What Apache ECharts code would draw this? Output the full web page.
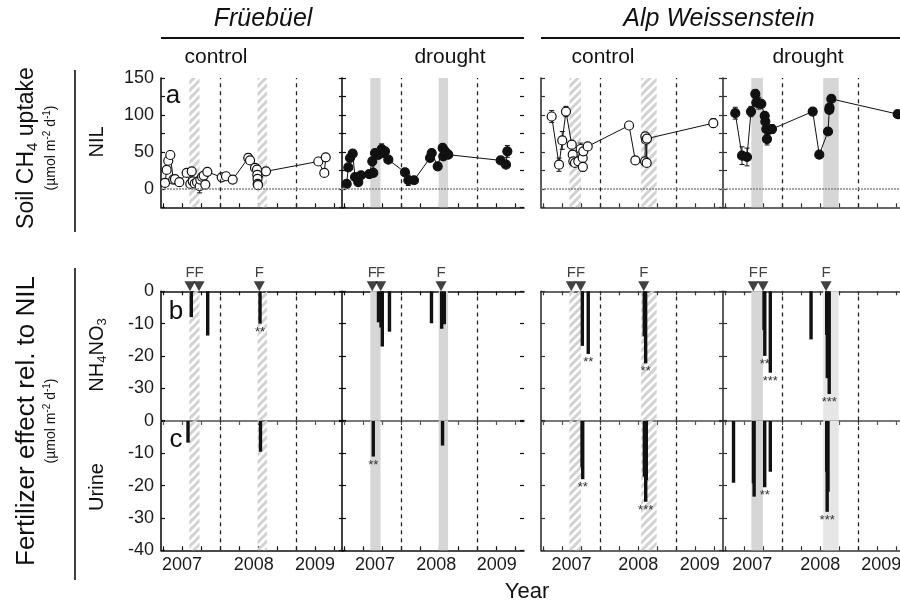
<!DOCTYPE html>
<html>
<head>
<meta charset="utf-8">
<script src="https://cdn.jsdelivr.net/npm/echarts@6.0.0/dist/echarts.min.js"></script>
<style>
html, body { margin: 0; padding: 0; background: #fff; }
#main { width: 900px; height: 606px; }
</style>
</head>
<body>
<div id="main"></div>
<script>
// x values are decimal years
var yearTicks = [2007.25, 2007.5, 2007.75, 2008, 2008.25, 2008.5, 2008.75, 2009, 2009.25, 2009.5];
var yearLines = [2008, 2009];
var yearLabels = ['2007', '2008', '2009'];
// where each panel writes its year labels
var yearLabelPos = [
    [2007.491, 2008.440, 2009.248],
    [2007.650, 2008.458, 2009.257],
    [2007.617, 2008.498, 2009.312],
    [2007.600, 2008.498, 2009.304]
];
var panelNames = ['control', 'drought', 'control', 'drought'];
var siteNames = ['Früebüel', 'Alp Weissenstein'];

// drought periods
var shadeFrue = [[2007.588, 2007.723], [2008.490, 2008.615]];
var shadeAlp = [[2007.588, 2007.742], [2008.537, 2008.742]];

// fertilizer applications (F)
var fertFrueControl = [2007.597, 2007.716, 2008.512];
var fertFrueDrought = [2007.614, 2007.725, 2008.522];
var fertAlpControl = [2007.614, 2007.738, 2008.571];
var fertAlpDrought = [2007.614, 2007.742, 2008.575];

// a: CH4 uptake of NIL plots [year, uptake, error]
var nilFrueControl = [
    [2007.267, 8, 0], [2007.289, 25.6, 0], [2007.310, 38, 0], [2007.337, 45.8, 3],
    [2007.376, 12.5, 0], [2007.399, 13, 0], [2007.456, 9, 5], [2007.553, 21.5, 0],
    [2007.601, 6.7, 0], [2007.620, 23.7, 0], [2007.633, 10.2, 0], [2007.659, 7.1, 0],
    [2007.690, 8.9, 0], [2007.725, 3.5, 9], [2007.733, 12.5, 0], [2007.756, 16.2, 0],
    [2007.778, 18, 0], [2007.799, 5.8, 0], [2007.826, 23, 0], [2008.016, 15.6, 0],
    [2008.073, 17, 0], [2008.161, 12.5, 0], [2008.367, 41.8, 6], [2008.390, 38.5, 0],
    [2008.456, 28.3, 0], [2008.482, 26, 0], [2008.486, 19, 0], [2008.489, 13.5, 0],
    [2008.491, 6.7, 0], [2008.495, 5, 0], [2008.601, 23.7, 0], [2009.292, 37, 0],
    [2009.371, 21.5, 0], [2009.390, 42.6, 0]
];
var nilFrueDrought = [
    [2007.276, 6.7, 0], [2007.297, 29, 0], [2007.320, 41.7, 0], [2007.355, 47.6, 0],
    [2007.386, 16, 0], [2007.429, 9, 0], [2007.465, 18.4, 0], [2007.575, 20, 0],
    [2007.614, 37.2, 0], [2007.627, 21.5, 0], [2007.650, 48.5, 0], [2007.694, 46, 0],
    [2007.738, 53.9, 7], [2007.760, 48.5, 0], [2007.782, 50.7, 0], [2007.826, 39.5, 0],
    [2008.046, 22.4, 0], [2008.090, 11.6, 7], [2008.165, 11.6, 0], [2008.377, 41.8, 0],
    [2008.399, 48.5, 0], [2008.478, 30.5, 0], [2008.544, 55.3, 0], [2008.552, 44, 0],
    [2008.575, 50.7, 0], [2008.618, 46.2, 0], [2009.310, 38.5, 0], [2009.380, 32.7, 0],
    [2009.398, 50.7, 8]
];
var nilAlpControl = [
    [2007.355, 97.9, 8], [2007.452, 32.7, 9], [2007.495, 65.5, 12], [2007.544, 104.6, 7],
    [2007.620, 59.7, 0], [2007.633, 46.2, 0], [2007.641, 37.2, 0], [2007.663, 35, 0],
    [2007.707, 37.2, 0], [2007.738, 53.9, 8], [2007.765, 41.8, 0], [2007.767, 29.6, 6],
    [2007.773, 50.7, 0], [2007.831, 57.4, 0], [2008.377, 85.7, 0], [2008.460, 38.5, 5],
    [2008.588, 37.2, 0], [2008.592, 70.9, 0], [2008.601, 66.4, 0], [2008.610, 35, 0],
    [2008.614, 68, 0], [2009.490, 88.9, 6]
];
var nilAlpDrought = [
    [2007.376, 102.4, 8], [2007.465, 44.9, 12], [2007.531, 43.1, 12], [2007.584, 104.6, 7],
    [2007.641, 128.4, 6], [2007.654, 116.7, 0], [2007.686, 115.9, 8], [2007.720, 115, 0],
    [2007.765, 98.8, 0], [2007.773, 91.1, 0], [2007.786, 80.9, 8], [2007.795, 67.4, 8],
    [2007.818, 79.9, 0], [2007.861, 80.9, 6], [2008.399, 104.6, 0], [2008.486, 46.2, 5],
    [2008.601, 77.6, 0], [2008.618, 106.9, 0], [2008.621, 110, 0], [2008.645, 121.7, 0],
    [2009.522, 101.1, 4]
];

// b: NH4NO3 effect rel. to NIL [year, effect, significance stars]
var nh4FrueControl = [[2007.614, -8, 0], [2007.831, -13.7, 0], [2008.522, -10, 2]];
var nh4FrueDrought = [
    [2007.696, -9.6, 0], [2007.729, -11.2, 0], [2007.746, -17.1, 0], [2007.841, -12.5, 0],
    [2008.396, -9.9, 0], [2008.531, -11.6, 0], [2008.565, -10.2, 0]
];
var nh4AlpControl = [[2007.760, -16.9, 0], [2007.838, -19.4, 2], [2008.578, -14, 0], [2008.596, -22.3, 2]];
var nh4AlpDrought = [
    [2007.756, -12, 0], [2007.766, -20, 2], [2007.839, -25.2, 3], [2008.377, -14.9, 0],
    [2008.584, -13.5, 0], [2008.592, -26.9, 0], [2008.617, -31.8, 3]
];

// c: urine effect rel. to NIL
var urineFrueControl = [[2007.571, -6.7, 0], [2008.528, -9.5, 0]];
var urineFrueDrought = [[2007.627, -11, 2], [2008.542, -7.6, 0]];
var urineAlpControl = [
    [2007.756, -14.3, 0], [2007.765, -18, 2], [2008.579, -17.2, 0], [2008.605, -18.3, 0],
    [2008.597, -25, 3]
];
var urineAlpDrought = [
    [2007.353, -19.1, 0], [2007.616, -19.3, 0], [2007.625, -23.4, 0], [2007.765, -20.5, 2],
    [2007.839, -15.7, 0], [2008.584, -15.7, 0], [2008.601, -21.9, 0], [2008.590, -28.1, 3]
];

var nilData = [nilFrueControl, nilFrueDrought, nilAlpControl, nilAlpDrought];
var nh4Data = [nh4FrueControl, nh4FrueDrought, nh4AlpControl, nh4AlpDrought];
var urineData = [urineFrueControl, urineFrueDrought, urineAlpControl, urineAlpDrought];
var fertData = [fertFrueControl, fertFrueDrought, fertAlpControl, fertAlpDrought];

var FONT = '"Liberation Sans", Arial, Helvetica, sans-serif';
var xMin = 2007.214, xMax = 2009.618;
var colLeft = [161, 342, 541, 723], colWidth = 182;
var rowTop = [78, 291.3, 421], rowHeight = [129.3, 129.2, 129.3];
var yRange = [[-25, 150, 25], [-40, 0, 10], [-40, 0, 10]];

// diagonal hatch for the control panels
function hatchCanvas() {
    var cv = document.createElement('canvas');
    cv.width = 8; cv.height = 8;
    var ctx = cv.getContext('2d');
    ctx.strokeStyle = '#d2d2d2';
    ctx.lineWidth = 3;
    ctx.beginPath();
    ctx.moveTo(-2, 10); ctx.lineTo(10, -2);
    ctx.moveTo(-2, 2); ctx.lineTo(2, -2);
    ctx.moveTo(6, 10); ctx.lineTo(10, 6);
    ctx.stroke();
    return cv;
}
var hatch = { image: hatchCanvas(), repeat: 'repeat' };

function renderErr(params, api) {
    var err = api.value(2);
    if (!err) return null;
    var x = api.value(0), y = api.value(1);
    var lo = api.coord([x, y - err]), hi = api.coord([x, y + err]);
    var st = { stroke: '#111', lineWidth: 1 };
    return {
        type: 'group', children: [
            { type: 'line', shape: { x1: lo[0], y1: lo[1], x2: hi[0], y2: hi[1] }, style: st },
            { type: 'line', shape: { x1: lo[0] - 2.5, y1: lo[1], x2: lo[0] + 2.5, y2: lo[1] }, style: st },
            { type: 'line', shape: { x1: hi[0] - 2.5, y1: hi[1], x2: hi[0] + 2.5, y2: hi[1] }, style: st }
        ]
    };
}

function renderBar(params, api) {
    var x = api.value(0), v = api.value(1), n = api.value(2);
    var p0 = api.coord([x, 0]), p1 = api.coord([x, v]);
    var w = 3.4;
    var kids = [{
        type: 'rect',
        shape: { x: p0[0] - w / 2, y: p0[1], width: w, height: p1[1] - p0[1] },
        style: { fill: '#111' }
    }];
    if (n > 0) {
        kids.push({
            type: 'text', x: p1[0], y: p1[1] + 2,
            style: { text: new Array(n + 1).join('*'), fill: '#333', fontSize: 13, fontFamily: FONT, align: 'center', verticalAlign: 'top' }
        });
    }
    return { type: 'group', children: kids };
}

var grids = [], xAxes = [], yAxes = [], series = [];

for (var r = 0; r < 3; r++) {
    for (var c = 0; c < 4; c++) {
        var g = r * 4 + c;
        var axisCol = c < 2 ? '#111' : '#333';
        grids.push({ left: colLeft[c], top: rowTop[r], width: colWidth, height: rowHeight[r], outerBoundsMode: 'none' });
        (function (c, r) {
            xAxes.push({
                type: 'value', gridIndex: g, min: xMin, max: xMax,
                position: r === 1 ? 'top' : 'bottom',
                axisLine: { show: true, onZero: false, lineStyle: { color: axisCol, width: 1.6 } },
                axisTick: { show: true, inside: true, length: 4, customValues: yearTicks, lineStyle: { color: axisCol, width: 1.2 } },
                axisLabel: r === 2 ? {
                    show: true, customValues: yearLabelPos[c], fontSize: 18, color: '#1a1a1a', margin: 6, fontFamily: FONT,
                    formatter: function (v) {
                        var best = 0;
                        for (var i = 0; i < 3; i++) if (Math.abs(yearLabelPos[c][i] - v) < Math.abs(yearLabelPos[c][best] - v)) best = i;
                        return yearLabels[best];
                    }
                } : { show: false },
                splitLine: { show: false }
            });
            var yr = yRange[r];
            yAxes.push({
                type: 'value', gridIndex: g, min: yr[0], max: yr[1], interval: yr[2], position: 'left',
                axisLine: { show: true, onZero: false, lineStyle: { color: axisCol, width: 1.6 } },
                axisTick: { show: true, inside: true, length: 4, lineStyle: { color: axisCol, width: 1.2 } },
                axisLabel: {
                    show: c === 0, fontSize: 18, color: '#1a1a1a', margin: 7, fontFamily: FONT,
                    formatter: function (v) {
                        if (r === 0) return (v >= 0 && v % 50 === 0) ? String(v) : '';
                        if (r === 1 && v === -40) return '';
                        return String(v);
                    }
                },
                splitLine: { show: false }
            });
        })(c, r);
    }
}
// right-hand ticks
for (var g2 = 0; g2 < 12; g2++) {
    var rr = Math.floor(g2 / 4), cc = g2 % 4;
    yAxes.push({
        type: 'value', gridIndex: g2, min: yRange[rr][0], max: yRange[rr][1], interval: yRange[rr][2], position: 'right',
        axisLine: { show: false, onZero: false },
        axisTick: { show: true, inside: true, length: 4, lineStyle: { color: cc < 2 ? '#111' : '#333', width: 1.2 } },
        axisLabel: { show: false }, splitLine: { show: false }
    });
}
// grey zero line on top of the urine panels
for (var c3 = 0; c3 < 4; c3++) {
    xAxes.push({
        type: 'value', gridIndex: 8 + c3, min: xMin, max: xMax, position: 'top',
        axisLine: { show: true, onZero: false, lineStyle: { color: '#7a7a7a', width: 2 } },
        axisTick: { show: true, inside: true, length: 4, customValues: yearTicks, lineStyle: { color: '#555', width: 1.2 } },
        axisLabel: { show: false }, splitLine: { show: false }
    });
}

for (var r = 0; r < 3; r++) {
    for (var c = 0; c < 4; c++) {
        var g = r * 4 + c;
        var shade = c < 2 ? shadeFrue : shadeAlp;
        var fill = (c === 0 || c === 2) ? hatch : '#d6d6d6';
        var areas = shade.map(function (s, i) {
            var it = [{ xAxis: s[0] }, { xAxis: s[1] }];
            if (c === 3 && i === 1 && r > 0) it[0].itemStyle = { color: '#e6e6e6' };
            return it;
        });
        var lines = yearLines.map(function (y) {
            return { xAxis: y, lineStyle: { color: '#222', type: [4, 4], width: 1.3 } };
        });
        if (r === 0) lines.push({ yAxis: 0, lineStyle: { color: '#888', type: [2, 1], width: 1.5 } });
        series.push({
            type: 'line', xAxisIndex: g, yAxisIndex: g, data: [], silent: true, z: 1,
            markArea: { silent: true, itemStyle: { color: fill }, data: areas },
            markLine: { silent: true, symbol: 'none', label: { show: false }, data: lines, animation: false }
        });
        if (r === 0) {
            series.push({
                type: 'custom', xAxisIndex: g, yAxisIndex: g, data: nilData[c], renderItem: renderErr, z: 3, silent: true
            });
            series.push({
                type: 'line', xAxisIndex: g, yAxisIndex: g, z: 4,
                data: nilData[c].map(function (p) { return [p[0], p[1]]; }),
                symbol: 'circle', symbolSize: 9, showSymbol: true,
                lineStyle: { color: '#111', width: 1 },
                itemStyle: { color: (c === 1 || c === 3) ? '#111' : '#fff', borderColor: '#111', borderWidth: 1.2 }
            });
        } else {
            series.push({
                type: 'custom', xAxisIndex: g, yAxisIndex: g, z: 3, silent: true,
                data: r === 1 ? nh4Data[c] : urineData[c], renderItem: renderBar
            });
        }
        if (r === 1) {
            series.push({
                type: 'scatter', xAxisIndex: g, yAxisIndex: g, z: 5, clip: false, silent: true,
                data: fertData[c].map(function (x) { return [x, 0]; }),
                symbol: 'triangle', symbolRotate: 180, symbolSize: [11, 10], symbolOffset: [0, -5],
                itemStyle: { color: '#111' },
                label: { show: true, formatter: 'F', position: 'top', distance: 1, fontSize: 15, color: '#111', fontFamily: FONT }
            });
        }
    }
}

function txt(str, x, y, size, opt) {
    opt = opt || {};
    return {
        type: 'text', x: x, y: y, rotation: opt.rot || 0, silent: true,
        style: {
            text: str, fill: '#111', fontSize: size, fontFamily: FONT,
            fontStyle: opt.italic ? 'italic' : 'normal', align: 'center', verticalAlign: 'middle',
            lineHeight: opt.lh, rich: opt.rich
        }
    };
}
var subRich = function (base) {
    return {
        sub: { fontSize: Math.round(base * 0.65), fontFamily: FONT, verticalAlign: 'bottom', lineHeight: base + 4 },
        sup: { fontSize: Math.round(base * 0.7), fontFamily: FONT, verticalAlign: 'top', lineHeight: base + 4 }
    };
};
var ROT = Math.PI / 2;
var graphics = [
    txt(siteNames[0], 263, 19, 25, { italic: true }),
    txt(siteNames[1], 719, 19, 25, { italic: true }),
    { type: 'line', silent: true, shape: { x1: 161, y1: 38, x2: 524, y2: 38 }, style: { stroke: '#111', lineWidth: 2 } },
    { type: 'line', silent: true, shape: { x1: 541, y1: 38, x2: 905, y2: 38 }, style: { stroke: '#111', lineWidth: 2 } },
    txt(panelNames[0], 216, 57, 21),
    txt(panelNames[1], 450, 57, 21),
    txt(panelNames[2], 603, 57, 21),
    txt(panelNames[3], 808, 57, 21),
    txt('Soil CH{sub|4} uptake', 27, 148, 23, { rot: ROT, lh: 27, rich: subRich(23) }),
    txt('(µmol m{sup|-2} d{sup|-1})', 51, 148, 14, { rot: ROT, lh: 18, rich: subRich(14) }),
    { type: 'line', silent: true, shape: { x1: 75, y1: 70, x2: 75, y2: 232 }, style: { stroke: '#111', lineWidth: 1.6 } },
    txt('NIL', 97, 142, 20, { rot: ROT }),
    txt('Fertilizer effect rel. to NIL', 27, 421, 26, { rot: ROT }),
    txt('(µmol m{sup|-2} d{sup|-1})', 51, 421, 14, { rot: ROT, lh: 18, rich: subRich(14) }),
    { type: 'line', silent: true, shape: { x1: 75, y1: 268, x2: 75, y2: 580 }, style: { stroke: '#111', lineWidth: 1.6 } },
    txt('NH{sub|4}NO{sub|3}', 97, 355, 20, { rot: ROT, lh: 24, rich: subRich(20) }),
    txt('Urine', 97, 487, 20, { rot: ROT }),
    txt('a', 173, 96, 26),
    txt('b', 176, 312, 26),
    txt('c', 176, 440, 26),
    txt('Year', 527, 592, 22)
];

var chart = echarts.init(document.getElementById('main'));
chart.setOption({
    animation: false,
    backgroundColor: '#fff',
    textStyle: { fontFamily: FONT },
    grid: grids,
    xAxis: xAxes,
    yAxis: yAxes,
    series: series,
    graphic: graphics
});
</script>
</body>
</html>
